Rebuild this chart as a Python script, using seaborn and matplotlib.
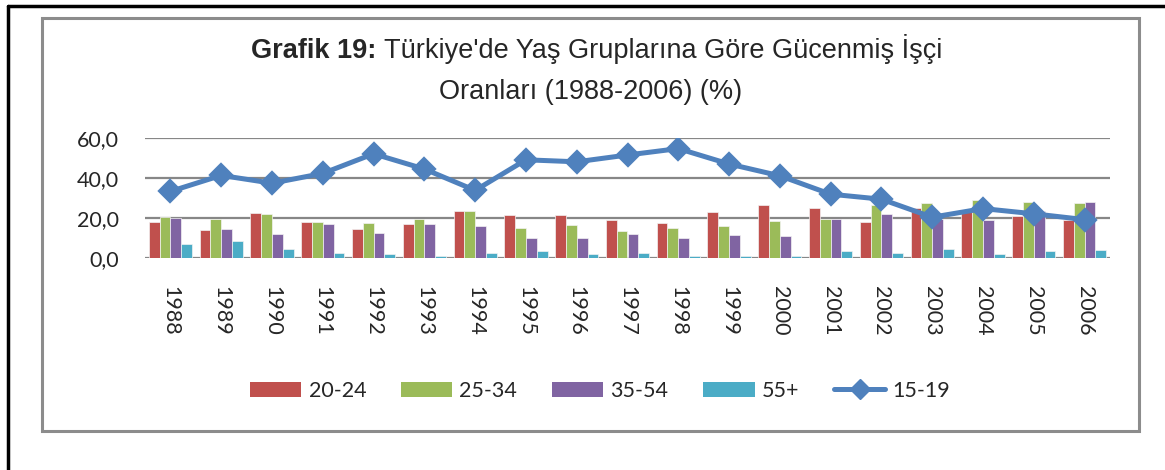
import matplotlib
matplotlib.use("Agg")
import matplotlib.pyplot as plt
import seaborn as sns
import pandas as pd
from matplotlib.patches import Patch, Rectangle
from matplotlib.lines import Line2D

years = [str(y) for y in range(1988, 2007)]
g20_24 = [18.2, 13.9, 22.4, 18.2, 14.5, 17.0, 23.6, 21.4, 21.4, 19.2, 17.5, 23.1, 26.7, 24.9, 18.0, 24.9, 23.2, 20.9, 19.0]
g25_34 = [20.6, 19.7, 22.2, 18.2, 17.7, 19.4, 23.6, 15.0, 16.7, 13.5, 15.2, 15.9, 18.4, 19.6, 26.4, 27.4, 28.9, 28.1, 27.6]
g35_54 = [19.9, 14.5, 11.9, 17.2, 12.4, 17.0, 16.0, 9.9, 10.0, 12.2, 9.9, 11.7, 10.9, 19.4, 22.2, 19.4, 19.2, 23.6, 27.9]
g55 = [6.9, 8.7, 4.5, 2.3, 1.8, 0.8, 2.3, 3.3, 2.0, 2.3, 1.2, 0.8, 1.2, 3.3, 2.5, 4.5, 2.2, 3.5, 4.0]
g15_19 = [33.3, 41.3, 37.4, 42.3, 52.1, 44.5, 33.8, 49.1, 48.1, 51.5, 54.7, 47.0, 41.1, 31.9, 29.4, 20.4, 24.7, 22.1, 19.2]

bar_groups = ["20-24", "25-34", "35-54", "55+"]
line_group = "15-19"
bar_colors = ["#C0504D", "#9BBB59", "#8064A2", "#4BACC6"]
line_color = "#4F81BD"
yticks = [0, 20, 40, 60]
ytick_labels = ["0,0", "20,0", "40,0", "60,0"]

rows = []
for grp, vals in zip(bar_groups, [g20_24, g25_34, g35_54, g55]):
    for y, v in zip(years, vals):
        rows.append({"year": y, "group": grp, "value": v})
df = pd.DataFrame(rows)
df_line = pd.DataFrame({"year": years, "value": g15_19})

sns.set_theme(style="white")
plt.rcParams["font.family"] = ["Lato", "DejaVu Sans"]

fig = plt.figure(figsize=(11.65, 4.7), dpi=100)
ax = fig.add_axes([145 / 1165, 1 - 258 / 470, (1110 - 145) / 1165, (258 - 138) / 470])

sns.barplot(data=df, x="year", y="value", hue="group", hue_order=bar_groups,
            palette=bar_colors, order=years, width=0.85, gap=0.0,
            saturation=1, edgecolor="#f3f3f3", linewidth=0.5, legend=False, ax=ax,
            errorbar=None)
sns.pointplot(data=df_line, x="year", y="value", order=years, color=line_color,
              markers="D", markersize=10, linewidth=3.6, ax=ax, errorbar=None)

ax.set_ylim(0, 60)
ax.set_xlim(-0.5, len(years) - 0.5)
ax.set_yticks(yticks)
ax.set_yticklabels(ytick_labels, fontsize=15.5)
ax.set_xticks(range(len(years)))
ax.set_xticklabels(years, rotation=-90, fontsize=15.5, va="top")
ax.tick_params(axis="x", pad=20, length=0)
ax.tick_params(axis="y", pad=19, length=0)
ax.set_xlabel("")
ax.set_ylabel("")
for s in ax.spines.values():
    s.set_visible(False)
for t in yticks:
    ax.axhline(t, color="#878787", lw=1.6, zorder=0)
ax.set_axisbelow(True)

# frames
fig.add_artist(Rectangle((42 / 1165, 1 - 431 / 470), (1139 - 42) / 1165, (431 - 18) / 470,
                         transform=fig.transFigure, fill=False, edgecolor="#8c8c8c", lw=2.2))
fig.add_artist(Line2D([8 / 1165, 8 / 1165], [0, 1 - 6 / 470], transform=fig.transFigure,
                      color="black", lw=2.5))
fig.add_artist(Line2D([8 / 1165, 1], [1 - 6 / 470, 1 - 6 / 470], transform=fig.transFigure,
                      color="black", lw=2.5))

# title with bold prefix
tfont = ["Liberation Sans", "DejaVu Sans"]
tsize = 19.5
bold_part = "Grafik 19: "
rest_part = "Türkiye'de Yaş Gruplarına Göre Gücenmiş İşçi"
t1 = fig.text(0, 0, bold_part, fontsize=tsize, fontweight="bold", family=tfont, va="baseline")
t2 = fig.text(0, 0, rest_part, fontsize=tsize, family=tfont, va="baseline")
fig.canvas.draw()
r = fig.canvas.get_renderer()
w1 = t1.get_window_extent(r).width
w2 = t2.get_window_extent(r).width
cx = 597
x0 = cx - (w1 + w2) / 2
ybase = 470 - 58
t1.set_position((x0 / 1165, ybase / 470))
t2.set_position(((x0 + w1) / 1165, ybase / 470))
fig.text(591 / 1165, (470 - 99) / 470, "Oranları (1988-2006) (%)", fontsize=tsize,
         family=tfont, ha="center", va="baseline")

handles = [Patch(facecolor=c, edgecolor="none") for c in bar_colors]
handles.append(Line2D([], [], color=line_color, lw=3.6, marker="D", markersize=10))
labels = bar_groups + [line_group]
fig.legend(handles, labels, loc="center", bbox_to_anchor=(600 / 1165, 1 - 391 / 470),
           ncol=5, frameon=False, fontsize=15.5, handlelength=2.4, handleheight=0.7,
           columnspacing=1.6, handletextpad=0.33)

fig.savefig("out.png", dpi=100, facecolor="white")
